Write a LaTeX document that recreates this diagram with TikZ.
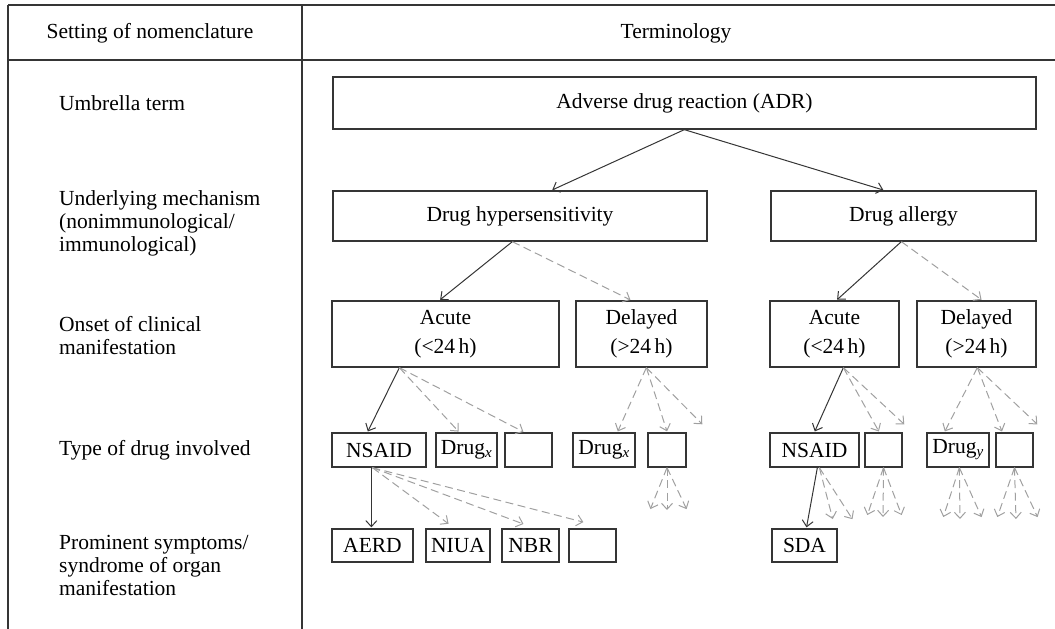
\documentclass[tikz,border=0pt]{standalone}
\usepackage{fontspec}
\setmainfont{Liberation Serif}
\usetikzlibrary{arrows.meta}
\definecolor{ink}{HTML}{353535}
\definecolor{dgray}{HTML}{A0A0A0}
\begin{document}
\begin{tikzpicture}[x=1pt,y=-1pt,
  every node/.style={font=\fontsize{21.5}{23}\selectfont, text=black},
  box/.style={draw=ink, line width=1.3pt, inner sep=0pt, align=center},
  lab/.style={anchor=west, align=left, inner sep=0pt},
  solidarr/.style={draw=ink, line width=1pt, -{Straight Barb[length=6pt,width=11pt]}, shorten >=1pt},
  dasharr/.style={draw=dgray, line width=1pt, dash pattern=on 8pt off 4.5pt, -{Straight Barb[length=6pt,width=11pt]}, shorten >=1pt},
  tline/.style={draw=ink, line width=1.2pt}
]
\useasboundingbox (0,0) rectangle (1055,629);
% table frame
\coordinate (tl) at (8,5);
\coordinate (tr) at (1055,5);
\coordinate (hl) at (8,60);
\coordinate (hr) at (1055,60);
\coordinate (bl) at (8,629);
\coordinate (st) at (302,5);
\coordinate (sb) at (302,629);
\draw[tline] (tl) -- (tr);
\draw[tline] (hl) -- (hr);
\draw[tline] (tl) -- (bl);
\draw[tline] (st) -- (sb);
\node (h1) at (150,33) {Setting of nomenclature};
\node (h2) at (676,33) {Terminology};
% row labels
\node[lab] (r1) at (59,103) {Umbrella term};
\node[lab] (r2) at (59,223) {Underlying mechanism\\(nonimmunological/\\immunological)};
\node[lab] (r3) at (59,336) {Onset of clinical\\manifestation};
\node[lab] (r4) at (59,450) {Type of drug involved};
\node[lab] (r5) at (59,565) {Prominent symptoms/\\syndrome of organ\\manifestation};
% boxes
\node[box, minimum width=703pt, minimum height=52pt] (adr) at (684.5,103) {Adverse drug reaction (ADR)};
\node[box, minimum width=374pt, minimum height=50pt] (hyp) at (520,216) {Drug hypersensitivity};
\node[box, minimum width=265pt, minimum height=50pt] (all) at (903.5,216) {Drug allergy};
\node[box, minimum width=227pt, minimum height=66pt] (acL) at (445.5,334) {Acute\\[6pt](<24\,h)};
\node[box, minimum width=131pt, minimum height=66pt] (deL) at (641.5,334) {Delayed\\[6pt](>24\,h)};
\node[box, minimum width=129pt, minimum height=66pt] (acR) at (834.5,334) {Acute\\[6pt](<24\,h)};
\node[box, minimum width=119pt, minimum height=66pt] (deR) at (976.5,334) {Delayed\\[6pt](>24\,h)};
\node[box, minimum width=94pt, minimum height=34pt] (nsL) at (379,450) {NSAID};
\node[box, minimum width=61pt, minimum height=34pt] (dxL) at (466.5,450) {Drug\textsubscript{\itshape x}};
\node[box, minimum width=47pt, minimum height=34pt] (e1) at (528.5,450) {};
\node[box, minimum width=62pt, minimum height=34pt] (dxM) at (604,450) {Drug\textsubscript{\itshape x}};
\node[box, minimum width=38pt, minimum height=34pt] (e2) at (667,450) {};
\node[box, minimum width=89pt, minimum height=34pt] (nsR) at (814.5,450) {NSAID};
\node[box, minimum width=37pt, minimum height=34pt] (e3) at (883.5,450) {};
\node[box, minimum width=62pt, minimum height=34pt] (dy) at (958,450) {Drug\textsubscript{\itshape y}};
\node[box, minimum width=37pt, minimum height=34pt] (e4) at (1014.5,450) {};
\node[box, minimum width=81pt, minimum height=33pt] (aerd) at (372.5,545.5) {AERD};
\node[box, minimum width=64pt, minimum height=33pt] (niua) at (458,545.5) {NIUA};
\node[box, minimum width=57pt, minimum height=33pt] (nbr) at (530.5,545.5) {NBR};
\node[box, minimum width=47pt, minimum height=33pt] (e5) at (592.5,545.5) {};
\node[box, minimum width=65pt, minimum height=33pt] (sda) at (804.5,545.5) {SDA};
% free arrow ends
\coordinate (fL) at (703,425);
\coordinate (fR) at (905,425);
\coordinate (fRR) at (1038,425);
\coordinate (f21) at (650,510);
\coordinate (f22) at (667,511);
\coordinate (f23) at (687,510);
\coordinate (fs1) at (833,520);
\coordinate (fs2) at (853,520);
\coordinate (f31) at (867,516);
\coordinate (f32) at (883,518);
\coordinate (f33) at (902,516);
\coordinate (fy1) at (943,518);
\coordinate (fy2) at (960,520);
\coordinate (fy3) at (982,518);
\coordinate (f41) at (997,518);
\coordinate (f42) at (1016,520);
\coordinate (f43) at (1038,518);
% level 1
\draw[solidarr] ([xshift=352pt]adr.south west) -- ([xshift=219pt]hyp.north west);
\draw[solidarr] ([xshift=352pt]adr.south west) -- ([xshift=114pt]all.north west);
% level 2
\draw[solidarr] ([xshift=180pt]hyp.south west) -- ([xshift=108pt]acL.north west);
\draw[dasharr] ([xshift=180pt]hyp.south west) -- ([xshift=56pt]deL.north west);
\draw[solidarr] ([xshift=131pt]all.south west) -- ([xshift=67pt]acR.north west);
\draw[dasharr] ([xshift=131pt]all.south west) -- ([xshift=66pt]deR.north west);
% level 3
\draw[solidarr] ([xshift=68pt]acL.south west) -- ([xshift=36pt]nsL.north west);
\draw[dasharr] ([xshift=68pt]acL.south west) -- ([xshift=24pt]dxL.north west);
\draw[dasharr] ([xshift=68pt]acL.south west) -- ([xshift=20pt]e1.north west);
\draw[dasharr] ([xshift=71pt]deL.south west) -- ([xshift=45pt]dxM.north west);
\draw[dasharr] ([xshift=71pt]deL.south west) -- ([xshift=20pt]e2.north west);
\draw[dasharr] ([xshift=71pt]deL.south west) -- (fL);
\draw[solidarr] ([xshift=74pt]acR.south west) -- ([xshift=45pt]nsR.north west);
\draw[dasharr] ([xshift=74pt]acR.south west) -- ([xshift=15pt]e3.north west);
\draw[dasharr] ([xshift=74pt]acR.south west) -- (fR);
\draw[dasharr] ([xshift=61pt]deR.south west) -- ([xshift=18pt]dy.north west);
\draw[dasharr] ([xshift=61pt]deR.south west) -- ([xshift=7pt]e4.north west);
\draw[dasharr] ([xshift=61pt]deR.south west) -- (fRR);
% level 4
\draw[solidarr] ([xshift=40pt]nsL.south west) -- ([xshift=40pt]aerd.north west);
\draw[dasharr] ([xshift=41pt]nsL.south west) -- ([xshift=24pt,yshift=4pt]niua.north west);
\draw[dasharr] ([xshift=41pt]nsL.south west) -- ([xshift=23pt,yshift=4pt]nbr.north west);
\draw[dasharr] ([xshift=41pt]nsL.south west) -- ([xshift=16pt,yshift=6pt]e5.north west);
\draw[dasharr] (e2.south) -- (f21);
\draw[dasharr] (e2.south) -- (f22);
\draw[dasharr] (e2.south) -- (f23);
\draw[solidarr] ([xshift=48pt]nsR.south west) -- ([xshift=35pt]sda.north west);
\draw[dasharr] ([xshift=50pt]nsR.south west) -- (fs1);
\draw[dasharr] ([xshift=50pt]nsR.south west) -- (fs2);
\draw[dasharr] (e3.south) -- (f31);
\draw[dasharr] (e3.south) -- (f32);
\draw[dasharr] (e3.south) -- (f33);
\draw[dasharr] ([xshift=33pt]dy.south west) -- (fy1);
\draw[dasharr] ([xshift=33pt]dy.south west) -- (fy2);
\draw[dasharr] ([xshift=33pt]dy.south west) -- (fy3);
\draw[dasharr] (e4.south) -- (f41);
\draw[dasharr] (e4.south) -- (f42);
\draw[dasharr] (e4.south) -- (f43);
\end{tikzpicture}
\end{document}
